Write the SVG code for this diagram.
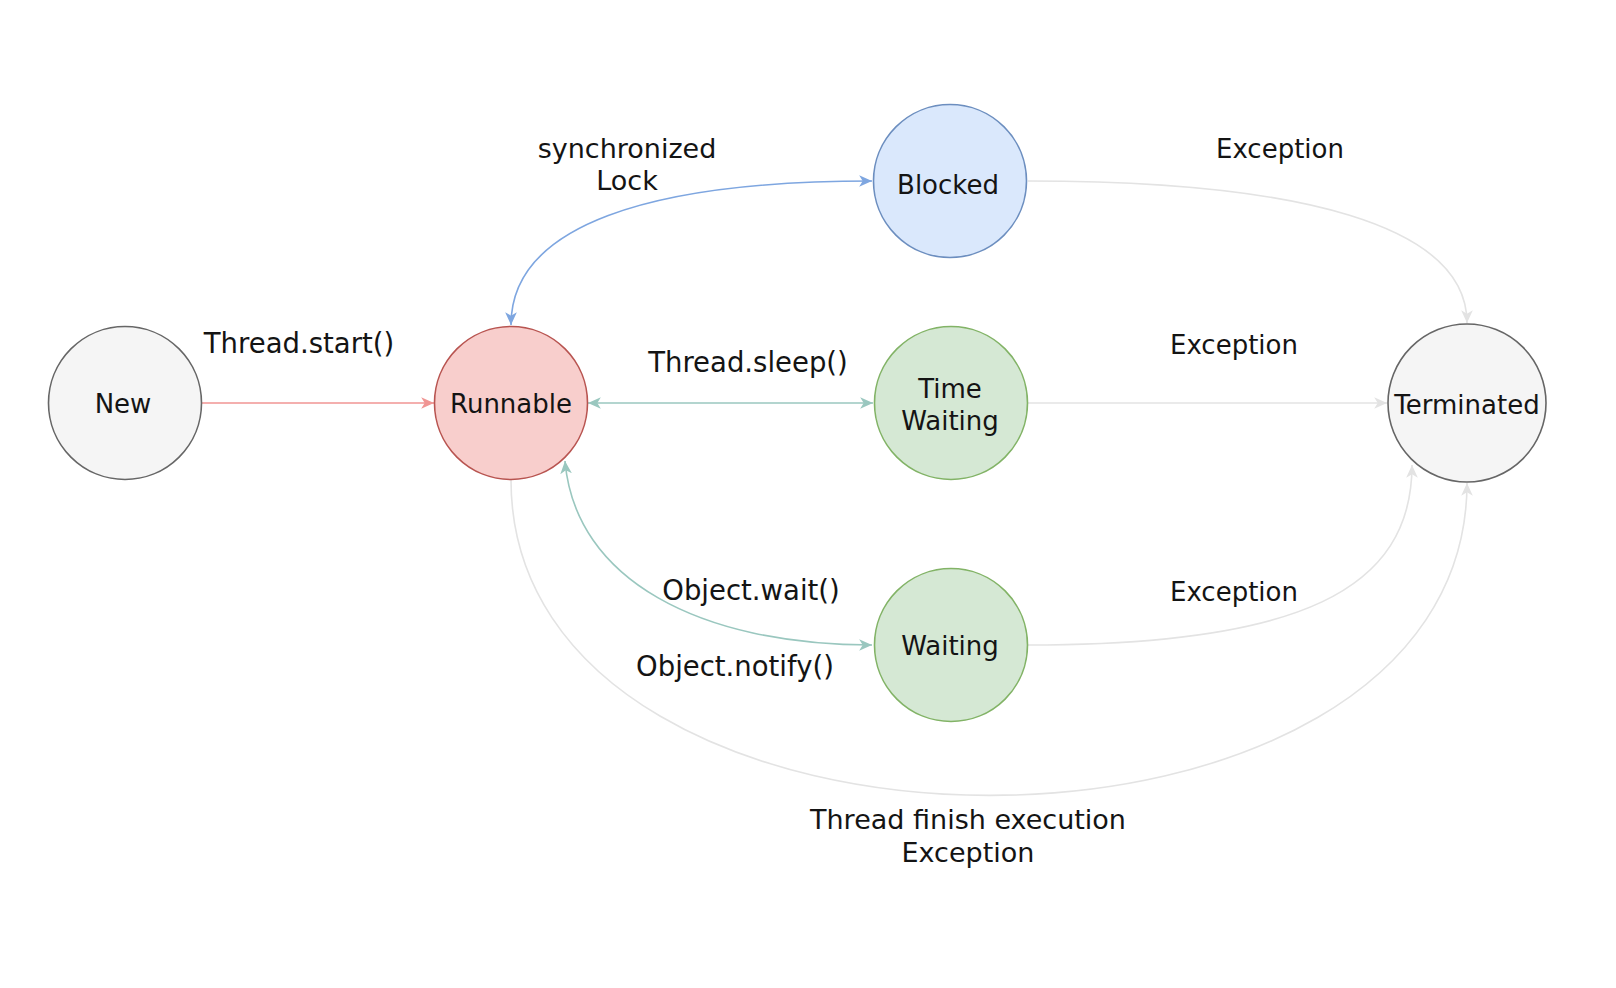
<svg xmlns="http://www.w3.org/2000/svg" width="1616" height="988" viewBox="0 0 1616 988">
<style>
  text { font-family: "DejaVu Sans", Verdana, sans-serif; font-size: 26px; fill: #141414; text-anchor: middle; }
  .lbl { font-size: 27px; }
  .mth { font-size: 27.5px; }
  .edge { fill: none; stroke-width: 1.6; }
  .gray { stroke: #e3e3e3; }
  .blue { stroke: #7ea6e0; }
  .teal { stroke: #9ac7bf; }
  .red { stroke: #f09593; }
</style>
<defs>
  <marker id="aGray" markerUnits="userSpaceOnUse" markerWidth="14" markerHeight="12" refX="11" refY="5" orient="auto-start-reverse" viewBox="0 0 12 10">
    <path d="M0,0 L11,5 L0,10 L3,5 Z" fill="#e3e3e3"/>
  </marker>
  <marker id="aBlue" markerUnits="userSpaceOnUse" markerWidth="14" markerHeight="12" refX="11" refY="5" orient="auto-start-reverse" viewBox="0 0 12 10">
    <path d="M0,0 L11,5 L0,10 L3,5 Z" fill="#7ea6e0"/>
  </marker>
  <marker id="aTeal" markerUnits="userSpaceOnUse" markerWidth="14" markerHeight="12" refX="11" refY="5" orient="auto-start-reverse" viewBox="0 0 12 10">
    <path d="M0,0 L11,5 L0,10 L3,5 Z" fill="#9ac7bf"/>
  </marker>
  <marker id="aRed" markerUnits="userSpaceOnUse" markerWidth="14" markerHeight="12" refX="11" refY="5" orient="auto-start-reverse" viewBox="0 0 12 10">
    <path d="M0,0 L11,5 L0,10 L3,5 Z" fill="#f09593"/>
  </marker>
</defs>
<rect width="1616" height="988" fill="#ffffff"/>

<g id="connectors">
  <path class="edge red" d="M202,403 L434,403" marker-end="url(#aRed)"/>
  <path class="edge teal" d="M588,403 L873,403" marker-start="url(#aTeal)" marker-end="url(#aTeal)"/>
  <path class="edge blue" d="M511,325 C511,225 650,181 872,181" marker-start="url(#aBlue)" marker-end="url(#aBlue)"/>
  <path class="edge teal" d="M565,461 C575,580 700,645 872,645" marker-start="url(#aTeal)" marker-end="url(#aTeal)"/>
  <path class="edge gray" d="M1028,181 C1300,181 1467,225 1467,323" marker-end="url(#aGray)"/>
  <path class="edge gray" d="M1028,403 L1387,403" marker-end="url(#aGray)"/>
  <path class="edge gray" d="M1028,645 C1300,645 1412,590 1412,465" marker-end="url(#aGray)"/>
  <path class="edge gray" d="M511,480 C511,900 1467,900 1467,483" marker-end="url(#aGray)"/>
  <text class="mth" x="299" y="353">Thread.start()</text>
  <text class="lbl" x="627" y="158">synchronized</text>
  <text class="lbl" x="627" y="190">Lock</text>
  <text class="mth" x="748" y="372">Thread.sleep()</text>
  <text class="mth" x="751" y="600">Object.wait()</text>
  <text class="mth" x="735" y="676">Object.notify()</text>
  <text x="1280" y="158">Exception</text>
  <text x="1234" y="354">Exception</text>
  <text x="1234" y="601">Exception</text>
  <text class="lbl" x="968" y="829">Thread finish execution</text>
  <text class="lbl" x="968" y="862">Exception</text>
</g>

<g id="new">
  <circle cx="125" cy="403" r="76.5" fill="#f5f5f5" stroke="#666666" stroke-width="1.6"/>
  <text x="123" y="413">New</text>
</g>
<g id="runnable">
  <circle cx="511" cy="403" r="76.5" fill="#f8cecc" stroke="#b85450" stroke-width="1.6"/>
  <text x="511" y="413">Runnable</text>
</g>
<g id="blocked">
  <circle cx="950" cy="181" r="76.5" fill="#dae8fc" stroke="#6c8ebf" stroke-width="1.6"/>
  <text x="948" y="194">Blocked</text>
</g>
<g id="time-waiting">
  <circle cx="951" cy="403" r="76.5" fill="#d5e8d4" stroke="#82b366" stroke-width="1.6"/>
  <text x="950" y="398">Time</text>
  <text x="950" y="430">Waiting</text>
</g>
<g id="waiting">
  <circle cx="951" cy="645" r="76.5" fill="#d5e8d4" stroke="#82b366" stroke-width="1.6"/>
  <text x="950" y="655">Waiting</text>
</g>
<g id="terminated">
  <circle cx="1467" cy="403" r="79" fill="#f5f5f5" stroke="#666666" stroke-width="1.6"/>
  <text x="1467" y="414">Terminated</text>
</g>
</svg>
